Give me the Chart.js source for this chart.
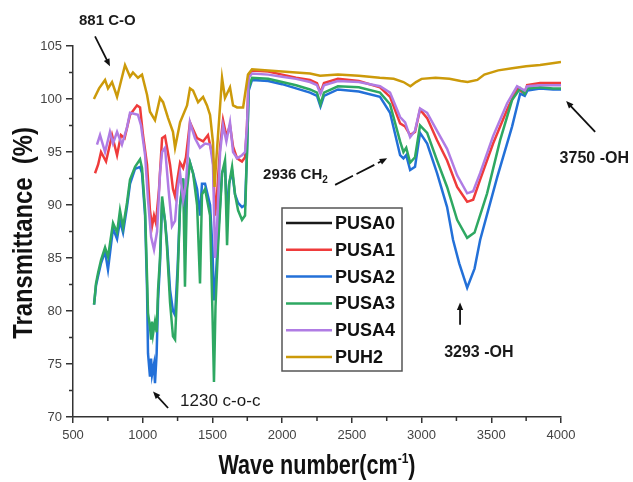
<!DOCTYPE html>
<html>
<head>
<meta charset="utf-8">
<script src="https://cdn.jsdelivr.net/npm/chart.js@4.4.1/dist/chart.umd.min.js"></script>
<style>
  html, body { margin: 0; padding: 0; background: #fff; }
  canvas { display: block; }
</style>
</head>
<body>
<canvas id="ftirChart" width="633" height="482"></canvas>
<script>
// FTIR spectra: transmittance (%) against wave number (cm-1)
const seriesNames = ['PUSA0', 'PUSA1', 'PUSA2', 'PUSA3', 'PUSA4', 'PUH2'];
const seriesColors = ['#1a1a1a', '#ef3b3b', '#2370d8', '#2ea862', '#b07ce4', '#cc9a0a'];

// PUSA0 only shows up in the legend
const wavePUSA0 = [];
const tPUSA0 = [];

const wavePUSA1 = [658, 680, 701, 737, 780, 816, 844, 870, 909, 959, 981, 1002, 1031, 1052, 1067,
  1081, 1095, 1117, 1139, 1160, 1196, 1217, 1232, 1250, 1268, 1290, 1310, 1339, 1390, 1433,
  1468, 1504, 1519, 1533, 1555, 1576, 1600, 1626, 1648, 1677, 1712, 1734, 1748, 1760, 1784,
  1900, 2000, 2100, 2200, 2250, 2275, 2300, 2400, 2550, 2702, 2774, 2846, 2882, 2918, 2953,
  2989, 3040, 3111, 3183, 3255, 3327, 3370, 3420, 3513, 3614, 3685, 3740, 3757, 3850, 3943, 4000];
const tPUSA1 = [93.0, 93.8, 95.0, 94.1, 96.6, 94.7, 96.6, 96.3, 98.5, 99.4, 99.2, 96.6, 93.8, 89.5, 88.0,
  89.0, 88.3, 91.5, 96.3, 96.5, 93.8, 91.5, 90.8, 92.5, 94.0, 93.5, 94.5, 97.8, 96.3, 96.0,
  96.6, 94.4, 89.0, 91.0, 95.5, 98.0, 96.5, 97.5, 95.5, 94.4, 94.1, 94.5, 97.5, 102.3, 102.7,
  102.6, 102.3, 102.0, 101.8, 101.5, 100.6, 101.5, 101.9, 101.7, 101.1, 100.2, 97.7, 97.4, 96.6, 96.9,
  99.0, 98.2, 96.1, 94.2, 91.7, 90.3, 90.5, 92.4, 95.8, 99.0, 101.0, 100.5, 101.3, 101.5, 101.5, 101.5];

const wavePUSA2 = [651, 665, 680, 701, 730, 751, 787, 816, 837, 859, 887, 909, 945, 981, 995,
  1017, 1031, 1038, 1052, 1060, 1067, 1081, 1088, 1100, 1110, 1124, 1139, 1160, 1174, 1196,
  1217, 1232, 1250, 1268, 1290, 1303, 1318, 1339, 1361, 1390, 1411, 1425, 1447, 1483, 1500,
  1511, 1522, 1540, 1569, 1590, 1605, 1620, 1641, 1662, 1684, 1712, 1734, 1748, 1760, 1784,
  1900, 2000, 2100, 2200, 2250, 2275, 2300, 2400, 2550, 2702, 2774, 2846, 2870, 2890, 2918,
  2953, 2989, 3040, 3111, 3183, 3226, 3270, 3327, 3380, 3420, 3542, 3649, 3707, 3740, 3760,
  3850, 3943, 4000];
const tPUSA2 = [80.6, 82.4, 83.3, 84.5, 85.6, 83.9, 87.8, 86.8, 88.5, 87.4, 89.8, 92.0, 93.4, 93.6, 93.0,
  89.0, 82.0, 76.0, 73.8, 75.5, 74.0, 75.0, 73.2, 76.0, 81.0, 84.5, 90.3, 88.5, 86.5, 82.0,
  80.0, 79.6, 84.0, 90.0, 92.5, 88.0, 92.5, 94.0, 93.0, 91.5, 89.0, 92.0, 92.0, 90.0, 86.0,
  81.0, 82.5, 87.0, 93.0, 93.8, 89.0, 92.0, 93.2, 91.0, 90.2, 89.8, 90.0, 95.0, 100.8, 101.8,
  101.7, 101.4, 101.0, 100.6, 100.3, 99.3, 100.3, 100.9, 100.7, 100.2, 98.7, 94.7, 94.4, 94.7, 93.3,
  93.6, 96.8, 95.8, 93.0, 89.8, 86.7, 84.5, 82.2, 84.0, 86.7, 92.6, 97.4, 100.5, 100.3, 100.8,
  101.0, 100.9, 100.9];

const wavePUSA3 = [651, 665, 680, 701, 730, 751, 787, 816, 837, 859, 887, 909, 945, 981, 995,
  1017, 1031, 1038, 1052, 1060, 1067, 1074, 1088, 1100, 1110, 1124, 1139, 1160, 1174, 1196,
  1217, 1232, 1250, 1268, 1290, 1303, 1318, 1339, 1361, 1390, 1411, 1425, 1447, 1483, 1500,
  1511, 1522, 1540, 1569, 1590, 1605, 1620, 1641, 1662, 1684, 1712, 1734, 1748, 1760, 1784,
  1900, 2000, 2100, 2200, 2250, 2275, 2300, 2400, 2550, 2702, 2774, 2846, 2870, 2890, 2918,
  2953, 2989, 3040, 3111, 3183, 3255, 3327, 3380, 3470, 3563, 3649, 3707, 3740, 3760, 3850,
  3943, 4000];
const tPUSA3 = [80.6, 82.6, 83.6, 84.8, 86.0, 85.1, 88.3, 87.4, 89.5, 87.9, 90.2, 92.4, 93.6, 94.3, 93.5,
  89.5, 83.2, 79.8, 78.5, 77.3, 79.0, 77.8, 79.0, 78.0, 82.0, 85.0, 90.8, 88.5, 86.0, 80.8,
  77.6, 77.3, 83.0, 90.0, 92.5, 82.3, 91.5, 94.0, 93.0, 90.0, 82.6, 91.0, 91.5, 89.0, 80.0,
  73.3, 80.4, 86.0, 93.0, 94.2, 86.2, 92.0, 93.6, 91.0, 89.5, 88.6, 89.0, 95.0, 101.0, 102.0,
  101.9, 101.6, 101.3, 100.9, 100.6, 99.5, 100.6, 101.2, 101.1, 100.6, 99.5, 96.0, 95.0, 95.4, 94.0,
  94.5, 97.5, 96.8, 94.2, 91.7, 88.6, 86.9, 87.4, 91.1, 96.1, 99.9, 101.0, 100.5, 101.0, 101.1,
  101.0, 101.0];

const wavePUSA4 = [672, 694, 730, 765, 787, 816, 851, 887, 909, 966, 988, 1017, 1038, 1060, 1081,
  1103, 1124, 1139, 1160, 1185, 1210, 1232, 1250, 1268, 1290, 1310, 1339, 1375, 1411, 1447,
  1483, 1504, 1519, 1533, 1555, 1576, 1600, 1626, 1648, 1677, 1712, 1734, 1748, 1760, 1784,
  1900, 2000, 2100, 2200, 2250, 2275, 2300, 2400, 2550, 2702, 2774, 2846, 2882, 2918, 2953,
  2989, 3040, 3111, 3183, 3255, 3327, 3370, 3420, 3513, 3614, 3685, 3740, 3757, 3850, 3943, 4000];
const tPUSA4 = [95.7, 96.6, 95.0, 96.9, 95.8, 96.9, 95.7, 97.3, 98.7, 98.5, 97.5, 94.7, 90.5, 87.0, 85.8,
  87.5, 93.0, 95.0, 95.4, 91.5, 88.0, 88.5, 91.5, 93.0, 90.5, 92.0, 97.8, 96.3, 95.4, 95.8,
  95.7, 93.8, 85.0, 88.0, 95.0, 97.5, 96.0, 97.8, 95.0, 94.4, 94.7, 95.0, 97.5, 102.0, 102.4,
  102.3, 102.1, 101.9, 101.6, 101.3, 100.5, 101.3, 101.7, 101.6, 101.2, 100.6, 98.3, 97.8, 96.4, 97.0,
  99.1, 98.7, 97.0, 95.3, 92.8, 91.1, 91.3, 93.0, 96.5, 99.6, 101.2, 100.8, 101.2, 101.3, 101.3, 101.3];

const wavePUH2 = [650, 687, 730, 751, 780, 801, 816, 837, 873, 909, 930, 966, 995, 1031, 1052,
  1088, 1124, 1146, 1182, 1217, 1232, 1268, 1318, 1339, 1361, 1397, 1433, 1461, 1483, 1504,
  1515, 1530, 1569, 1590, 1626, 1648, 1677, 1720, 1755, 1784, 1900, 2000, 2100, 2200, 2272,
  2400, 2550, 2700, 2800, 2870, 2920, 2960, 3000, 3100, 3200, 3280, 3330, 3400, 3450, 3550,
  3650, 3750, 3850, 3950, 4000];
const tPUH2 = [100.0, 101.0, 101.8, 101.0, 101.6, 100.8, 100.2, 101.3, 103.2, 102.1, 102.5, 102.0, 102.3, 100.4, 98.8,
  98.0, 100.1, 99.7, 98.2, 96.9, 95.4, 97.8, 99.4, 101.0, 100.8, 99.7, 100.2, 99.4, 98.5, 95.9,
  91.7, 94.7, 102.0, 100.1, 101.1, 99.4, 99.2, 99.2, 102.3, 102.8, 102.7, 102.6, 102.5, 102.4, 102.2,
  102.3, 102.2, 102.0, 101.9, 101.6, 101.2, 101.6, 101.9, 102.0, 101.9, 101.7, 101.6, 101.8, 102.3, 102.7,
  102.9, 103.1, 103.2, 103.4, 103.5];

const waves = [wavePUSA0, wavePUSA1, wavePUSA2, wavePUSA3, wavePUSA4, wavePUH2];
const trans = [tPUSA0, tPUSA1, tPUSA2, tPUSA3, tPUSA4, tPUH2];

// peak labels, in axis units (wave number, %)
const peakLabels = [
  { text: '881 C-O', x: 543, y: 107.35, font: 'bold 15px' },
  { text: '1230 c-o-c', x: 1268, y: 71.5, font: '17px' },
  { text: '2936 CH', sub: '2', x: 1863, y: 92.8, font: 'bold 15px' },
  { text: '3293 -OH', x: 3162, y: 76.1, font: 'bold 16px' },
  { text: '3750 -OH', x: 3990, y: 94.4, font: 'bold 16px' }
];
const peakArrows = [
  { from: [658, 105.9], to: [765, 103.1] },
  { from: [1182, 70.85], to: [1074, 72.4] },
  { from: [2380, 91.9], to: [2753, 94.4], dash: [20, 4] },
  { from: [3276, 78.7], to: [3276, 80.8] },
  { from: [4245, 96.9], to: [4037, 99.8] }
];

const FONT = "'Liberation Sans', Arial, sans-serif";
const AXIS_COLOR = '#333';

const datasets = seriesNames.map((name, i) => ({
  label: name,
  data: waves[i].map((w, j) => ({ x: w, y: trans[i][j] })),
  borderColor: seriesColors[i],
  backgroundColor: seriesColors[i],
  borderWidth: 2.5,
  pointRadius: 0,
  tension: 0,
  order: seriesNames.length - i // later samples drawn on top
}));

function drawArrow(ctx, x1, y1, x2, y2, dash) {
  const ang = Math.atan2(y2 - y1, x2 - x1);
  const head = 8;
  ctx.save();
  ctx.strokeStyle = '#111';
  ctx.fillStyle = '#111';
  ctx.lineWidth = 1.8;
  ctx.setLineDash(dash || []);
  ctx.beginPath();
  ctx.moveTo(x1, y1);
  ctx.lineTo(x2 - Math.cos(ang) * head * 0.8, y2 - Math.sin(ang) * head * 0.8);
  ctx.stroke();
  ctx.setLineDash([]);
  ctx.beginPath();
  ctx.moveTo(x2, y2);
  ctx.lineTo(x2 - head * Math.cos(ang - 0.4), y2 - head * Math.sin(ang - 0.4));
  ctx.lineTo(x2 - head * Math.cos(ang + 0.4), y2 - head * Math.sin(ang + 0.4));
  ctx.closePath();
  ctx.fill();
  ctx.restore();
}

const overlay = {
  id: 'overlay',
  afterDraw(chart) {
    const { ctx, chartArea, scales: { x, y } } = chart;
    ctx.save();

    // minor ticks
    ctx.strokeStyle = AXIS_COLOR;
    ctx.lineWidth = 1.5;
    ctx.beginPath();
    for (let v = 750; v < 4000; v += 500) {
      const px = x.getPixelForValue(v);
      ctx.moveTo(px, chartArea.bottom);
      ctx.lineTo(px, chartArea.bottom + 4);
    }
    for (let v = 72.5; v < 105; v += 5) {
      const py = y.getPixelForValue(v);
      ctx.moveTo(chartArea.left, py);
      ctx.lineTo(chartArea.left - 4, py);
    }
    ctx.stroke();

    // axis titles (narrow bold)
    ctx.fillStyle = '#111';
    ctx.textBaseline = 'alphabetic';
    ctx.save();
    ctx.translate(32, 233);
    ctx.rotate(-Math.PI / 2);
    ctx.scale(0.85, 1);
    ctx.font = 'bold 28px ' + FONT;
    ctx.textAlign = 'center';
    ctx.fillText('Transmittance  (%)', 0, 0);
    ctx.restore();

    ctx.save();
    ctx.translate(317, 474);
    ctx.scale(0.8, 1);
    ctx.textAlign = 'left';
    const main = 'Wave number(cm', sup = '-1', tail = ')';
    ctx.font = 'bold 27px ' + FONT;
    const w1 = ctx.measureText(main).width, w3 = ctx.measureText(tail).width;
    ctx.font = 'bold 15px ' + FONT;
    const w2 = ctx.measureText(sup).width;
    let cx = -(w1 + w2 + w3) / 2;
    ctx.font = 'bold 27px ' + FONT;
    ctx.fillText(main, cx, 0);
    cx += w1;
    ctx.font = 'bold 15px ' + FONT;
    ctx.fillText(sup, cx, -11);
    cx += w2;
    ctx.font = 'bold 27px ' + FONT;
    ctx.fillText(tail, cx, 0);
    ctx.restore();

    // peak labels and arrows
    ctx.textAlign = 'left';
    ctx.textBaseline = 'middle';
    peakLabels.forEach(l => {
      const px = x.getPixelForValue(l.x), py = y.getPixelForValue(l.y);
      ctx.font = l.font + ' ' + FONT;
      ctx.fillStyle = '#1a1a1a';
      ctx.fillText(l.text, px, py);
      if (l.sub) {
        const tw = ctx.measureText(l.text).width;
        ctx.font = 'bold 10px ' + FONT;
        ctx.fillText(l.sub, px + tw, py + 5);
      }
    });
    peakArrows.forEach(a => {
      drawArrow(ctx,
        x.getPixelForValue(a.from[0]), y.getPixelForValue(a.from[1]),
        x.getPixelForValue(a.to[0]), y.getPixelForValue(a.to[1]), a.dash);
    });

    // legend box
    const box = { left: 282, top: 208, width: 120, height: 163 };
    ctx.fillStyle = '#fff';
    ctx.fillRect(box.left, box.top, box.width, box.height);
    ctx.strokeStyle = '#555';
    ctx.lineWidth = 1.5;
    ctx.strokeRect(box.left, box.top, box.width, box.height);
    ctx.font = 'bold 18px ' + FONT;
    ctx.textBaseline = 'middle';
    chart.data.datasets.forEach((ds, i) => {
      const ly = box.top + 15 + i * 26.8;
      ctx.strokeStyle = ds.borderColor;
      ctx.lineWidth = 2.5;
      ctx.beginPath();
      ctx.moveTo(box.left + 4, ly);
      ctx.lineTo(box.left + 50, ly);
      ctx.stroke();
      ctx.fillStyle = '#111';
      ctx.fillText(ds.label, box.left + 53, ly + 1);
    });
    ctx.restore();
  }
};

new Chart(document.getElementById('ftirChart'), {
  type: 'line',
  data: { datasets },
  options: {
    responsive: false,
    animation: false,
    layout: { padding: { top: 46, right: 72, left: 0, bottom: 0 } },
    plugins: { legend: { display: false }, tooltip: { enabled: false } },
    scales: {
      x: {
        type: 'linear',
        min: 500,
        max: 4000,
        afterFit(s) { s.height = 65; },
        ticks: {
          stepSize: 500,
          maxRotation: 0,
          padding: 5,
          color: '#444',
          font: { family: FONT, size: 13 },
          callback: v => String(v)
        },
        grid: { drawOnChartArea: false, tickLength: 6, color: AXIS_COLOR, lineWidth: 1.5 },
        border: { color: AXIS_COLOR, width: 1.5 }
      },
      y: {
        min: 70,
        max: 105,
        afterFit(s) { s.width = 73; },
        ticks: {
          stepSize: 5,
          padding: 4,
          color: '#444',
          font: { family: FONT, size: 13 },
          callback: v => String(v)
        },
        grid: { drawOnChartArea: false, tickLength: 7, color: AXIS_COLOR, lineWidth: 1.5 },
        border: { color: AXIS_COLOR, width: 1.5 }
      }
    }
  },
  plugins: [overlay]
});
</script>
</body>
</html>
